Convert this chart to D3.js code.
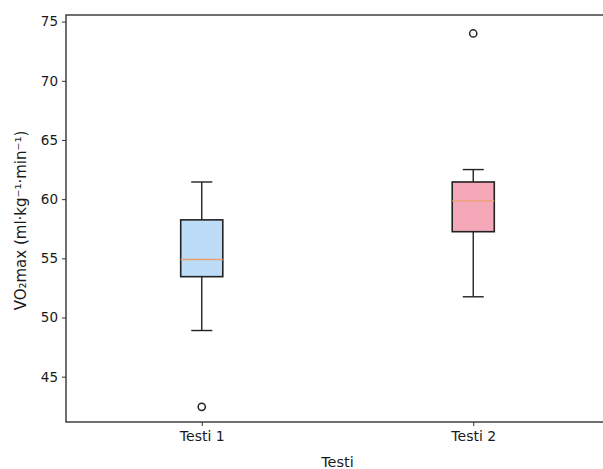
<!DOCTYPE html>
<html>
<head>
<meta charset="utf-8">
<script src="https://cdn.jsdelivr.net/npm/d3@7"></script>
<style>
  html, body { margin: 0; padding: 0; background: #fff; }
  svg { display: block; }
  text { font-family: "DejaVu Sans", sans-serif; fill: #1a1a1a; }
</style>
</head>
<body>
<svg id="chart" width="603" height="469"></svg>
<script>
// Box-plot summaries per test session
const categories = ["Testi 1", "Testi 2"];
const whiskerLow  = [48.9, 51.75];
const q1          = [53.45, 57.25];
const median      = [54.9, 59.85];
const q3          = [58.25, 61.45];
const whiskerHigh = [61.45, 62.5];
const outliers    = [[42.45], [74.0]];
const boxColors   = ["#bcdcf8", "#f5a8b8"];
const yTicks      = [45, 50, 55, 60, 65, 70, 75];

const svg = d3.select("#chart");
const plot = { left: 66, right: 609, top: 15, bottom: 422 };

const x = d3.scaleLinear().domain([0.5, 2.5]).range([plot.left, plot.right]);
const y = d3.scaleLinear().domain([41.17, 75.56]).range([plot.bottom, plot.top]);
const boxHalf = 0.0775;

// frame
svg.append("rect")
  .attr("x", plot.left).attr("y", plot.top)
  .attr("width", plot.right - plot.left).attr("height", plot.bottom - plot.top)
  .attr("fill", "none").attr("stroke", "#333").attr("stroke-width", 1.4);

// axes
const yAxis = svg.append("g")
  .attr("transform", `translate(${plot.left},0)`)
  .call(d3.axisLeft(y).tickValues(yTicks).tickSize(4).tickPadding(4).tickFormat(d3.format("d")));
yAxis.select(".domain").remove();
yAxis.selectAll("line").attr("stroke", "#333");
yAxis.selectAll("text").style("font-size", "13.5px").style("font-family", "DejaVu Sans, sans-serif").attr("fill", "#1a1a1a");

const xAxis = svg.append("g")
  .attr("transform", `translate(0,${plot.bottom})`)
  .call(d3.axisBottom(x).tickValues([1, 2]).tickSize(4).tickPadding(5)
    .tickFormat((d, i) => categories[i]));
xAxis.select(".domain").remove();
xAxis.selectAll("line").attr("stroke", "#333");
xAxis.selectAll("text").style("font-size", "14px").style("font-family", "DejaVu Sans, sans-serif").attr("fill", "#1a1a1a");

// axis titles
svg.append("text")
  .attr("x", x(1.5)).attr("y", 467)
  .attr("text-anchor", "middle").style("font-size", "14.5px")
  .text("Testi");

svg.append("text")
  .attr("transform", `translate(26,${(plot.top + plot.bottom) / 2 + 2}) rotate(-90)`)
  .attr("text-anchor", "middle").style("font-size", "15px")
  .text("VO₂max (ml·kg⁻¹·min⁻¹)");

// boxes
const data = categories.map((c, i) => ({
  pos: i + 1, lo: whiskerLow[i], q1: q1[i], med: median[i], q3: q3[i],
  hi: whiskerHigh[i], out: outliers[i], color: boxColors[i]
}));

const g = svg.selectAll("g.box").data(data).join("g").attr("class", "box");

// whiskers
g.append("line")
  .attr("x1", d => x(d.pos)).attr("x2", d => x(d.pos))
  .attr("y1", d => y(d.lo)).attr("y2", d => y(d.q1))
  .attr("stroke", "#222").attr("stroke-width", 1.4);
g.append("line")
  .attr("x1", d => x(d.pos)).attr("x2", d => x(d.pos))
  .attr("y1", d => y(d.q3)).attr("y2", d => y(d.hi))
  .attr("stroke", "#222").attr("stroke-width", 1.4);

// caps
["lo", "hi"].forEach(k => {
  g.append("line")
    .attr("x1", d => x(d.pos - boxHalf / 2)).attr("x2", d => x(d.pos + boxHalf / 2))
    .attr("y1", d => y(d[k])).attr("y2", d => y(d[k]))
    .attr("stroke", "#222").attr("stroke-width", 1.4);
});

// box body
g.append("rect")
  .attr("x", d => x(d.pos - boxHalf))
  .attr("width", d => x(d.pos + boxHalf) - x(d.pos - boxHalf))
  .attr("y", d => y(d.q3))
  .attr("height", d => y(d.q1) - y(d.q3))
  .attr("fill", d => d.color)
  .attr("stroke", "#222").attr("stroke-width", 1.6);

// median
g.append("line")
  .attr("x1", d => x(d.pos - boxHalf)).attr("x2", d => x(d.pos + boxHalf))
  .attr("y1", d => y(d.med)).attr("y2", d => y(d.med))
  .attr("stroke", "#e9a070").attr("stroke-width", 1.3);

// outliers
g.selectAll("circle").data(d => d.out.map(v => ({ pos: d.pos, v })))
  .join("circle")
  .attr("cx", d => x(d.pos)).attr("cy", d => y(d.v))
  .attr("r", 3.6)
  .attr("fill", "none").attr("stroke", "#222").attr("stroke-width", 1.5);
</script>
</body>
</html>
